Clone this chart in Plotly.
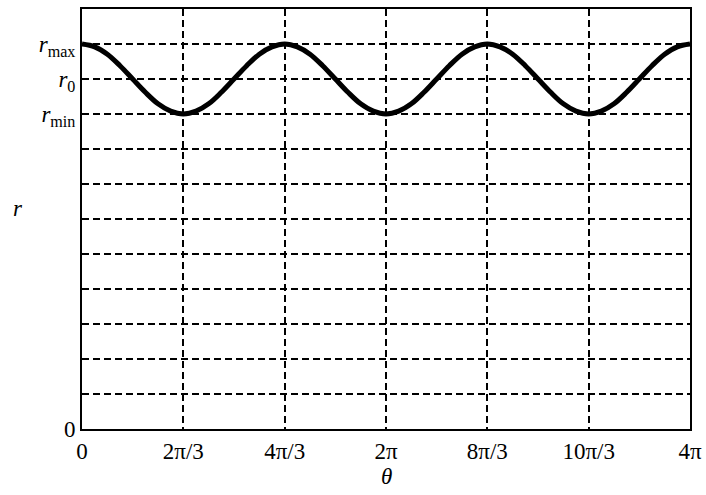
import math
import plotly.graph_objects as go

# theta samples (in units of pi/12) and r values
theta_steps = list(range(0, 49))
r_values = [
    11, 10.92, 10.71, 10.38, 10, 9.62, 9.29, 9.08, 9, 9.08, 9.29, 9.62, 10, 10.38, 10.71, 10.92,
    11, 10.92, 10.71, 10.38, 10, 9.62, 9.29, 9.08, 9, 9.08, 9.29, 9.62, 10, 10.38, 10.71, 10.92,
    11, 10.92, 10.71, 10.38, 10, 9.62, 9.29, 9.08, 9, 9.08, 9.29, 9.62, 10, 10.38, 10.71, 10.92,
    11,
]
theta = [k * math.pi / 12 for k in theta_steps]

x_tickvals = [0, 2 * math.pi / 3, 4 * math.pi / 3, 2 * math.pi, 8 * math.pi / 3, 10 * math.pi / 3, 4 * math.pi]
x_ticktext = ["0", "2π/3", "4π/3", "2π", "8π/3", "10π/3", "4π"]

y_tickvals = list(range(0, 12))
y_ticktext = ["0"] + [""] * 8 + ["<i>r</i><sub>min</sub>", "<i>r</i><sub>0</sub>", "<i>r</i><sub>max</sub>"]

fig = go.Figure()
fig.add_trace(go.Scatter(
    x=theta, y=r_values, mode="lines",
    line=dict(color="black", width=5, shape="spline"),
    showlegend=False, hoverinfo="skip",
))

font = dict(family="Liberation Serif, Times New Roman, serif", size=23, color="black")

fig.update_layout(
    width=706, height=495,
    margin=dict(l=82, r=16, t=9, b=66),
    paper_bgcolor="white", plot_bgcolor="white",
    font=font,
    xaxis=dict(
        range=[0, 4 * math.pi], tickvals=x_tickvals, ticktext=x_ticktext,
        showgrid=True, gridcolor="black", gridwidth=1.6, griddash="7px,4px",
        showline=True, linecolor="black", linewidth=2, mirror=True,
        ticks="", zeroline=False, tickfont=font, automargin=False,
    ),
    yaxis=dict(
        range=[0, 12], tickvals=y_tickvals, ticktext=y_ticktext,
        showgrid=True, gridcolor="black", gridwidth=1.6, griddash="7px,4px",
        showline=True, linecolor="black", linewidth=2, mirror=True,
        ticks="", zeroline=False, tickfont=font, automargin=False,
    ),
    annotations=[
        dict(text="<i>r</i>", xref="paper", yref="paper", x=-0.105, y=0.524,
             xanchor="center", yanchor="middle", showarrow=False, font=font),
        dict(text="<i>θ</i>", xref="paper", yref="paper", x=0.5, y=-0.114,
             xanchor="center", yanchor="middle", showarrow=False, font=font),
    ],
)

fig.write_html("out.html", config={"displayModeBar": False},
               post_script="document.body.style.margin='0';document.body.style.overflow='hidden';")
